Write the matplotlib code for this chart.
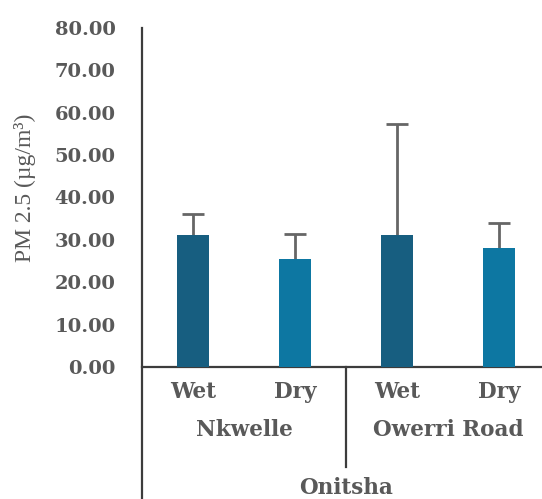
import matplotlib.pyplot as plt
from matplotlib.lines import Line2D

# data
seasons = ["Wet", "Dry", "Wet", "Dry"]
sites = ["Nkwelle", "Owerri Road"]
city = "Onitsha"
pm25 = [31.1, 25.4, 31.1, 28.0]
upper_err = [5.0, 6.0, 26.2, 5.9]
yticks = [0, 10, 20, 30, 40, 50, 60, 70, 80]

wet_color = "#175e80"
dry_color = "#0d77a2"
text_gray = "#595959"
line_gray = "#3c3c3c"


def create_graph():
    fig = plt.figure(figsize=(5.42, 4.99), dpi=100)
    W, H = 542, 499
    # axes spans past the right edge, like the cropped original
    ax = fig.add_axes([142 / W, (H - 367) / H, 408 / W, 339 / H])

    x = list(range(len(pm25)))
    colors = [wet_color if s == "Wet" else dry_color for s in seasons]
    ax.bar(x, pm25, width=0.31, color=colors, linewidth=0, zorder=3)
    # upper error only
    eb = ax.errorbar(x, pm25, yerr=[[0] * len(upper_err), upper_err],
                     fmt="none", ecolor="#666666", elinewidth=2,
                     capsize=8, capthick=2, zorder=2)
    caps = eb[1]
    if len(caps) == 2:
        caps[0].set_visible(False)

    ax.set_xlim(-0.5, 3.5)
    ax.set_ylim(0, 80)
    ax.set_yticks(yticks)
    ax.set_yticklabels([f"{v:.2f}" for v in yticks],
                       family="DejaVu Serif", fontweight="bold",
                       fontsize=14, color=text_gray)
    ax.tick_params(axis="y", length=0, pad=19)
    ax.set_xticks([])

    for side in ["top", "right", "left"]:
        ax.spines[side].set_visible(False)
    ax.spines["bottom"].set_color(line_gray)
    ax.spines["bottom"].set_linewidth(1.6)

    # left axis line running down through the category rows
    fig.add_artist(Line2D([142 / W, 142 / W], [0, (H - 28) / H],
                          color=line_gray, lw=1.6))

    tr = ax.get_xaxis_transform()
    lab = dict(family="DejaVu Serif", fontweight="bold", fontsize=15.5,
               color=text_gray, ha="center", va="center")
    for xi, s in zip(x, seasons):
        ax.text(xi, -0.074, s, transform=tr, **lab)
    for gi, name in enumerate(sites):
        ax.text(gi * 2 + 0.5, -0.186, name, transform=tr, **lab)
    ax.text(1.5, -0.357, city, transform=tr, **lab)

    # separator between the two sites
    ax.plot([1.5, 1.5], [0, -0.295], transform=tr, color=line_gray,
            lw=1.6, clip_on=False)

    fig.text(25 / W, (H - 188) / H, "PM 2.5 (µg/m³)", rotation=90,
             family="Liberation Serif", fontsize=17, color=text_gray,
             ha="center", va="center")

    fig.savefig("out.png", dpi=100)


def main():
    create_graph()


if __name__ == "__main__":
    main()
